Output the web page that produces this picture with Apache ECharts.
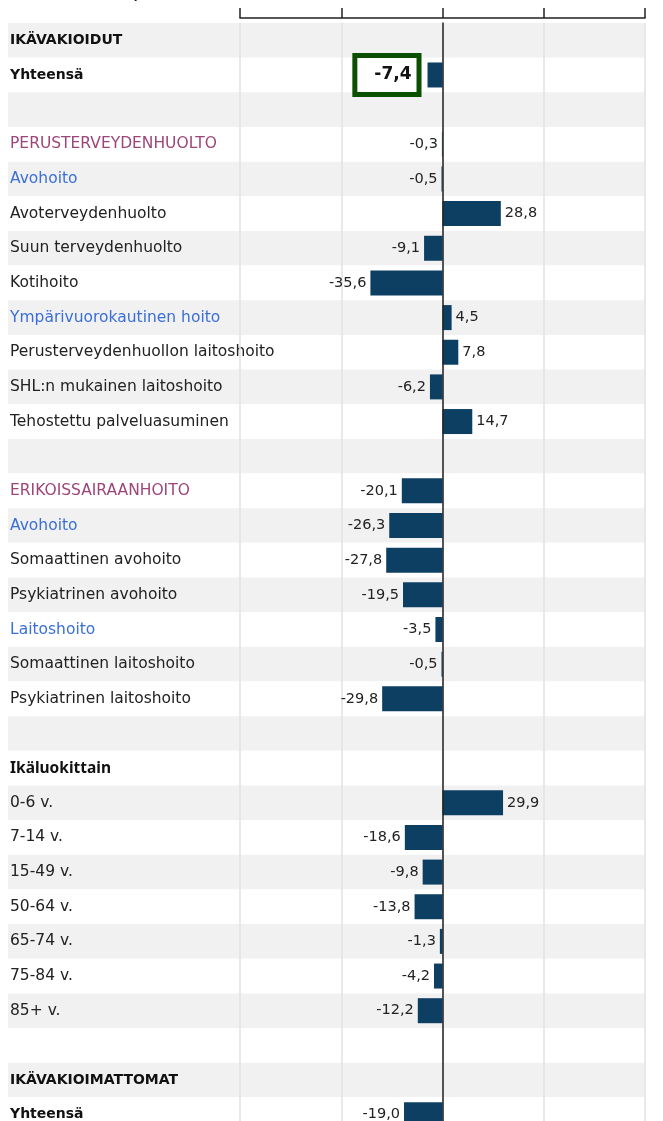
<!DOCTYPE html>
<html>
<head>
<meta charset="utf-8">
<script src="https://cdn.jsdelivr.net/npm/echarts@6/dist/echarts.min.js"></script>
<style>
  html, body { margin: 0; padding: 0; background: #fff; overflow: hidden; }
  #chart { width: 663px; height: 1140px; }
</style>
</head>
<body>
<div id="chart"></div>
<script>
// rows top to bottom, empty strings are spacer rows
const categories = [
  'IKÄVAKIOIDUT', 'Yhteensä', '',
  'PERUSTERVEYDENHUOLTO', 'Avohoito', 'Avoterveydenhuolto', 'Suun terveydenhuolto', 'Kotihoito',
  'Ympärivuorokautinen hoito', 'Perusterveydenhuollon laitoshoito', 'SHL:n mukainen laitoshoito',
  'Tehostettu palveluasuminen', '',
  'ERIKOISSAIRAANHOITO', 'Avohoito', 'Somaattinen avohoito', 'Psykiatrinen avohoito',
  'Laitoshoito', 'Somaattinen laitoshoito', 'Psykiatrinen laitoshoito', '',
  'Ikäluokittain', '0-6 v.', '7-14 v.', '15-49 v.', '50-64 v.', '65-74 v.', '75-84 v.', '85+ v.', '',
  'IKÄVAKIOIMATTOMAT', 'Yhteensä'
]
const values = [
  null, -7.4, null,
  -0.3, -0.5, 28.8, -9.1, -35.6,
  4.5, 7.8, -6.2,
  14.7, null,
  -20.1, -26.3, -27.8, -19.5,
  -3.5, -0.5, -29.8, null,
  null, 29.9, -18.6, -9.8, -13.8, -1.3, -4.2, -12.2, null,
  null, -19.0
]
const xTicks = [-100, -50, 0, 50, 100]

// row groups (indices into categories)
const boldRows = [0, 1, 30, 31]
const groupRows = [21]
const sectionRows = [3, 13]
const subRows = [4, 8, 14, 17]
const highlightRow = 1

const chart = echarts.init(document.getElementById('chart'))

const fmt = v => v.toFixed(1).replace('.', ',')

const barData = values.map((v, i) => {
  if (v === null) return null
  const item = { value: v, label: { position: v < 0 ? 'left' : 'right' } }
  if (i === highlightRow) {
    item.label = {
      position: 'left',
      distance: 11,
      fontFamily: 'DejaVu Sans',
      fontWeight: 'bold',
      fontSize: 17,
      color: '#111',
      backgroundColor: '#fff',
      borderColor: '#0b4f00',
      borderWidth: 5,
      padding: [9, 5, 8, 17]
    }
  }
  return item
})

const option = {
  animation: false,
  title: {
    text: 'Muutos, %',
    left: 62,
    top: -18,
    textStyle: { fontFamily: 'DejaVu Sans', fontWeight: 'bold', fontSize: 16, color: '#111' }
  },
  grid: [
    { left: 8, right: 18, top: 23, height: 1109 },
    { left: 240, right: 18, top: 23, height: 1109 }
  ],
  xAxis: [
    { gridIndex: 0, type: 'value', show: false, min: 0, max: 1 },
    {
      gridIndex: 1,
      type: 'value',
      position: 'top',
      min: xTicks[0],
      max: xTicks[xTicks.length - 1],
      interval: 50,
      offset: 5,
      z: 2,
      axisLine: { show: true, lineStyle: { color: '#222', width: 1.5 } },
      axisTick: { show: true, length: 10, lineStyle: { color: '#222', width: 1.5 } },
      axisLabel: { show: false },
      splitLine: { show: true, lineStyle: { color: '#e2e2e2', width: 1.5 } }
    }
  ],
  yAxis: [
    {
      gridIndex: 0,
      type: 'category',
      inverse: true,
      data: categories,
      z: 0,
      axisLine: { show: false },
      axisTick: { show: false },
      splitArea: { show: true, areaStyle: { color: ['#f1f1f1', '#ffffff'] } },
      axisLabel: {
        inside: true,
        margin: 2,
        align: 'left',
        formatter: (val, i) => {
          if (!val) return ''
          let key = 'normal'
          if (boldRows.includes(i)) key = 'bold'
          else if (groupRows.includes(i)) key = 'group'
          else if (sectionRows.includes(i)) key = 'section'
          else if (subRows.includes(i)) key = 'sub'
          return '{' + key + '|' + val + '}'
        },
        rich: {
          bold: { fontFamily: 'DejaVu Sans', fontWeight: 'bold', fontSize: 14, color: '#111' },
          group: { fontFamily: 'Noto Sans', fontWeight: 'bold', fontSize: 15.5, color: '#111' },
          section: { fontFamily: 'DejaVu Sans', fontSize: 15.5, color: '#9e4479' },
          sub: { fontFamily: 'DejaVu Sans', fontSize: 15.5, color: '#3a6fd8' },
          normal: { fontFamily: 'DejaVu Sans', fontSize: 15.5, color: '#222' }
        }
      }
    },
    {
      gridIndex: 1,
      type: 'category',
      inverse: true,
      data: categories,
      z: 3,
      axisLine: { show: true, onZero: true, lineStyle: { color: '#222', width: 1.5 } },
      axisTick: { show: false },
      axisLabel: { show: false }
    }
  ],
  series: [
    {
      type: 'bar',
      xAxisIndex: 1,
      yAxisIndex: 1,
      data: barData,
      barWidth: 25,
      itemStyle: { color: '#0d3f63' },
      label: {
        show: true,
        distance: 4,
        fontFamily: 'DejaVu Sans',
        fontSize: 14.5,
        color: '#222',
        formatter: p => fmt(p.value)
      }
    }
  ]
}

chart.setOption(option)
</script>
</body>
</html>
